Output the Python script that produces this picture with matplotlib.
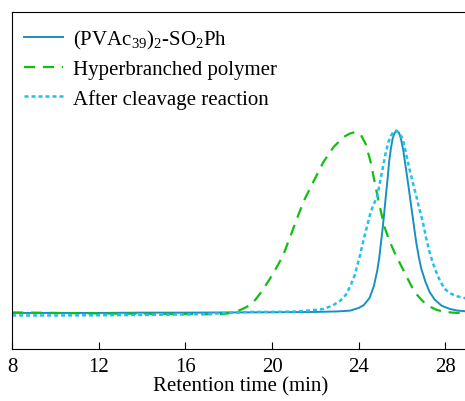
#GPC traces: precursor, hyperbranched polymer and after cleavage
import numpy as np
import matplotlib.pyplot as plt

plt.rcParams['font.family'] = ['Liberation Serif', 'DejaVu Serif']
plt.rcParams['mathtext.fontset'] = 'custom'
plt.rcParams['mathtext.rm'] = 'Liberation Serif'

#retention time (min) and detector signal (baseline = 0, peak ~ 100)
t_pre = [8.0, 10, 12, 14, 16, 18, 20, 22, 23, 23.6, 24.0, 24.24, 24.5, 24.7, 24.85, 24.94,
         25.02, 25.1, 25.18, 25.25, 25.33, 25.4, 25.48, 25.56, 25.65, 25.76, 25.86, 25.95,
         26.06, 26.18, 26.3, 26.42, 26.54, 26.65, 26.77, 26.89, 27.08, 27.27, 27.5, 27.82,
         28.2, 28.58, 29.14]
y_pre_px = [314, 314, 314, 313.7, 313.7, 313.5, 313.3, 313, 312.5, 311.7, 309, 306, 299, 287,
            272, 260, 245, 230, 213, 197, 180, 163, 150, 140, 134, 131.5, 134, 140, 152, 170,
            188, 207, 226, 243, 258, 270, 283, 293, 300.5, 306.7, 310, 311.7, 312.7]

t_hb = [8, 10, 12, 14, 16, 17, 17.8, 18.3, 18.64, 19.0, 19.26, 19.6, 20.04, 20.5, 20.97,
        21.44, 21.9, 22.37, 22.84, 23.3, 23.6, 23.85, 24.1, 24.32, 24.55, 24.86, 25.17, 25.4,
        25.64, 26.1, 26.57, 26.9, 27.18, 27.6, 27.97, 28.4, 28.9, 29.14]
y_hb_px = [313.5, 314, 314.5, 314.8, 315, 315.3, 315, 313, 310, 306, 300, 290, 275, 257, 230,
           203, 183, 163, 148, 138, 134.5, 133, 136, 145, 163, 196.7, 226.7, 241, 253, 273,
           293, 301, 306.7, 311, 313, 313.8, 314.2, 314]

t_cl = [8, 10, 12, 14, 16, 17, 18, 19, 20, 21, 21.8, 22.37, 22.8, 23.15, 23.4, 23.62, 23.8,
        23.93, 24.05, 24.16, 24.28, 24.39, 24.55, 24.7, 24.86, 24.98, 25.1, 25.25, 25.37,
        25.49, 25.6, 25.72, 25.87, 26.03, 26.18, 26.34, 26.5, 26.65, 26.8, 26.96, 27.1,
        27.27, 27.42, 27.58, 27.75, 27.97, 28.2, 28.44, 28.8, 29.14]
y_cl_px = [316.5, 316.5, 316.3, 316, 315.5, 315, 314, 313, 313, 312.7, 311.5, 310, 306.5,
           301.7, 296, 286.7, 277, 266.7, 257, 246.7, 236, 226.7, 213.3, 205, 196.7, 183, 170,
           153.3, 143, 136.7, 133, 131.7, 134, 140, 154, 170, 184, 196.7, 210, 223.3, 238,
           253.3, 264, 273.3, 282, 290, 294, 296.7, 298.8, 300]

labels = [r'(PVAc$_{\mathrm{39}}$)$_{\mathrm{2}}$-SO$_{\mathrm{2}}$Ph',
          'Hyperbranched polymer', 'After cleavage reaction']

#pixel readings -> signal
def sig(ypx):
    return (314.0 - np.array(ypx)) / 1.83

fig = plt.figure(figsize=(4.65, 4.02), dpi=100)
ax = fig.add_axes([0.026, 0.1294, 0.985, 0.8383])

ax.plot(t_pre, sig(y_pre_px), color='#1a8fc0', lw=1.4, label=labels[0])
ax.plot(t_hb, sig(y_hb_px), color='#10c010', lw=1.6, ls=(0, (5, 3.5)), label=labels[1])
ax.plot(t_cl, sig(y_cl_px), color='#20c0f0', lw=1.8, ls=(0, (1.6, 1.2)), label=labels[2])

ax.set_xlim(8, 29.14)
ax.set_ylim(-19.7, 164.5)
ax.set_xticks([8, 12, 16, 20, 24, 28])
ax.set_yticks([])
ax.tick_params(axis='x', direction='in', length=5, labelsize=15, pad=6)
ax.spines['right'].set_visible(False)
ax.set_xlabel('Retention time (min)', fontsize=15, labelpad=0)

ax.legend(loc='upper left', frameon=False, fontsize=15, handlelength=1.9,
          handletextpad=0.45, labelspacing=0.45, borderaxespad=0.15,
          bbox_to_anchor=(0.0, 0.988))

plt.savefig('out.png', dpi=100)
